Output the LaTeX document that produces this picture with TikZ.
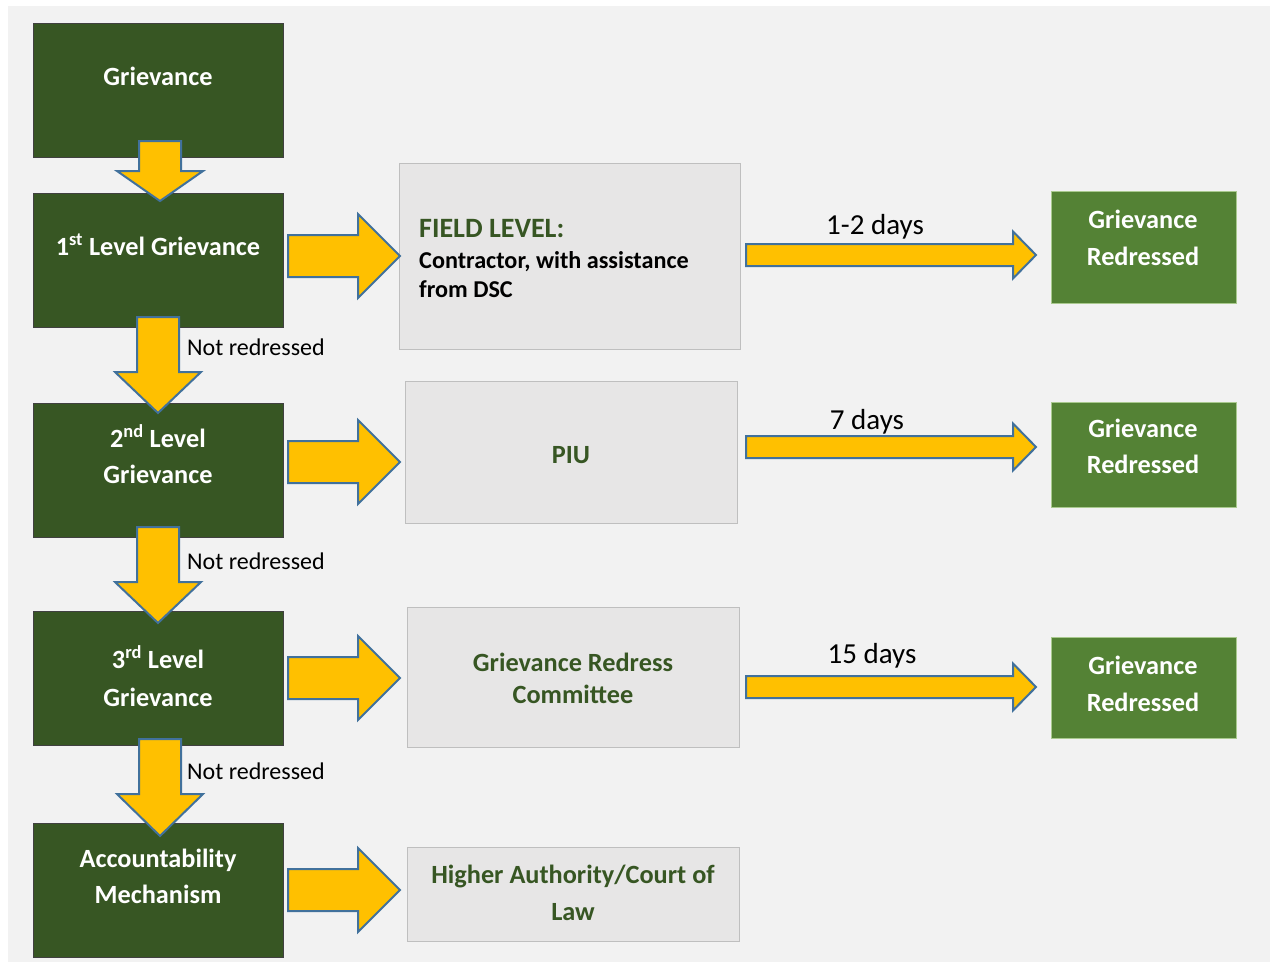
\documentclass[tikz,border=0pt]{standalone}
\usepackage{fontspec}
\setmainfont{Carlito}
\usetikzlibrary{calc}
\definecolor{bgc}{HTML}{F2F2F2}
\definecolor{dkgreen}{HTML}{375623}
\definecolor{mdgreen}{HTML}{548235}
\definecolor{mdborder}{HTML}{A9C98E}
\definecolor{lgray}{HTML}{E7E6E6}
\definecolor{lgborder}{HTML}{BFBFBF}
\definecolor{arrfill}{HTML}{FFC000}
\definecolor{arrline}{HTML}{41719C}
\newcommand\blkdown[3]{%
  \draw[blockarr] let \p1=(#1), \p2=(#2) in
  (\x1-21pt,\y1) -- (\x1+21pt,\y1) -- (\x1+21pt,\y2+#3pt) -- (\x1+43pt,\y2+#3pt)
  -- (\x1,\y2) -- (\x1-43pt,\y2+#3pt) -- (\x1-21pt,\y2+#3pt) -- cycle;}
\newcommand\blkright[5]{%
  \draw[blockarr] let \p1=(#1), \p2=(#2) in
  (\x1,\y1+#3pt) -- (\x2-#5pt,\y1+#3pt) -- (\x2-#5pt,\y1+#4pt) -- (\x2,\y1)
  -- (\x2-#5pt,\y1-#4pt) -- (\x2-#5pt,\y1-#3pt) -- (\x1,\y1-#3pt) -- cycle;}
\begin{document}
\begin{tikzpicture}[x=1pt,y=-1pt,
  anybox/.style={anchor=north west, inner sep=0pt, outer sep=0pt},
  dkbox/.style={anybox, draw=black!75, line width=0.8pt, fill=dkgreen},
  mdbox/.style={anybox, draw=mdborder, line width=0.8pt, fill=mdgreen},
  grbox/.style={anybox, draw=lgborder, line width=1pt, fill=lgray},
  blockarr/.style={fill=arrfill, draw=arrline, line width=2pt, line join=miter},
  wtxt/.style={text=white, font=\bfseries\fontsize{26.3}{30}\selectfont, anchor=base, inner sep=0pt},
  gtxt/.style={text=dkgreen, font=\bfseries\fontsize{26.3}{30}\selectfont, anchor=base, inner sep=0pt},
  fieldtxt/.style={text=dkgreen, font=\bfseries\fontsize{28}{32}\selectfont, anchor=base west, inner sep=0pt},
  contxt/.style={text=black, font=\bfseries\fontsize{24.2}{28}\selectfont, anchor=base west, inner sep=0pt},
  nrtxt/.style={text=black, font=\fontsize{24}{28}\selectfont, anchor=base west, inner sep=0pt},
  daytxt/.style={text=black, font=\fontsize{29}{33}\selectfont, anchor=base, inner sep=0pt}
]
\useasboundingbox (0,0) rectangle (1274,962);
\fill[bgc] (8,6) rectangle (1270,962);

% left column
\node[dkbox, minimum width=250pt, minimum height=134pt] (b1) at (33,23) {};
\node[dkbox, minimum width=250pt, minimum height=134pt] (b2) at (33,193) {};
\node[dkbox, minimum width=250pt, minimum height=134pt] (b3) at (33,403) {};
\node[dkbox, minimum width=250pt, minimum height=134pt] (b4) at (33,611) {};
\node[dkbox, minimum width=250pt, minimum height=134pt] (b5) at (33,823) {};

% middle column
\node[grbox, minimum width=341pt, minimum height=186pt] (m1) at (399,163) {};
\node[grbox, minimum width=332pt, minimum height=142pt] (m2) at (405,381) {};
\node[grbox, minimum width=332pt, minimum height=140pt] (m3) at (407,607) {};
\node[grbox, minimum width=332pt, minimum height=94pt] (m4) at (407,847) {};

% right column
\node[mdbox, minimum width=185pt, minimum height=112pt] (g1) at (1051,191) {};
\node[mdbox, minimum width=185pt, minimum height=105pt] (g2) at (1051,402) {};
\node[mdbox, minimum width=185pt, minimum height=101pt] (g3) at (1051,637) {};

% texts in left boxes
\node[wtxt] (t1) at (158,85) {Grievance};
\node[wtxt] (t2) at (158,255) {1\textsuperscript{st} Level Grievance};
\node[wtxt] (t3a) at (158,447) {2\textsuperscript{nd} Level};
\node[wtxt] (t3b) at (158,483) {Grievance};
\node[wtxt] (t4a) at (158,668) {3\textsuperscript{rd} Level};
\node[wtxt] (t4b) at (158,706) {Grievance};
\node[wtxt] (t5a) at (158,867) {Accountability};
\node[wtxt] (t5b) at (158,903) {Mechanism};

% texts in middle boxes
\node[fieldtxt] (f1) at (419,237) {FIELD LEVEL:};
\node[contxt] (f2) at (419,268) {Contractor, with assistance};
\node[contxt] (f3) at (419,297) {from DSC};
\node[gtxt] (p1) at (571,463) {PIU};
\node[gtxt] (c1) at (573,671) {Grievance Redress};
\node[gtxt] (c2) at (573,703) {Committee};
\node[gtxt] (h1) at (573,883) {Higher Authority/Court of};
\node[gtxt] (h2) at (573,920) {Law};

% texts in right boxes
\node[wtxt] (r1a) at (1143,228) {Grievance};
\node[wtxt] (r1b) at (1143,265) {Redressed};
\node[wtxt] (r2a) at (1143,437) {Grievance};
\node[wtxt] (r2b) at (1143,473) {Redressed};
\node[wtxt] (r3a) at (1143,674) {Grievance};
\node[wtxt] (r3b) at (1143,711) {Redressed};

% labels
\node[daytxt] (dy1) at (875,234) {1-2 days};
\node[daytxt] (dy2) at (867,429) {7 days};
\node[daytxt] (dy3) at (872,663) {15 days};
\node[nrtxt] (n1) at (187,355) {Not redressed};
\node[nrtxt] (n2) at (187,569) {Not redressed};
\node[nrtxt] (n3) at (187,779) {Not redressed};

% connector end points
\coordinate (d1s) at ($(b1.south)+(2,-16)$);
\coordinate (d1e) at ($(b2.north)+(2,8)$);
\coordinate (d2s) at ($(b2.south)+(0,-10)$);
\coordinate (d2e) at ($(b3.north)+(0,10)$);
\coordinate (d3s) at ($(b3.south)+(0,-10)$);
\coordinate (d3e) at ($(b4.north)+(0,12)$);
\coordinate (d4s) at ($(b4.south)+(2,-6)$);
\coordinate (d4e) at ($(b5.north)+(2,13)$);

\coordinate (a1s) at ($(b2.east)+(5,-4)$);
\coordinate (a1e) at ($(m1.west |- a1s)+(1,0)$);
\coordinate (a2s) at ($(b3.east)+(5,-8)$);
\coordinate (a2e) at ($(m2.west |- a2s)+(-5,0)$);
\coordinate (a3s) at ($(b4.east)+(5,0)$);
\coordinate (a3e) at ($(m3.west |- a3s)+(-7,0)$);
\coordinate (a4s) at ($(b5.east)+(5,0)$);
\coordinate (a4e) at ($(m4.west |- a4s)+(-7,0)$);

\coordinate (l1s) at ($(m1.east)+(6,-1)$);
\coordinate (l1e) at ($(g1.west |- l1s)+(-15,0)$);
\coordinate (l2s) at ($(m2.east)+(9,-5)$);
\coordinate (l2e) at ($(g2.west |- l2s)+(-15,0)$);
\coordinate (l3s) at ($(m3.east)+(7,10)$);
\coordinate (l3e) at ($(g3.west |- l3s)+(-15,0)$);

% block arrows
\blkdown{d1s}{d1e}{30}
\blkdown{d2s}{d2e}{41}
\blkdown{d3s}{d3e}{41}
\blkdown{d4s}{d4e}{42}
\blkright{a1s}{a1e}{21}{42}{42}
\blkright{a2s}{a2e}{21}{42}{42}
\blkright{a3s}{a3e}{21}{42}{42}
\blkright{a4s}{a4e}{21}{42}{42}
\blkright{l1s}{l1e}{11}{23.5}{23}
\blkright{l2s}{l2e}{11}{23.5}{23}
\blkright{l3s}{l3e}{11}{23.5}{23}
\end{tikzpicture}
\end{document}
